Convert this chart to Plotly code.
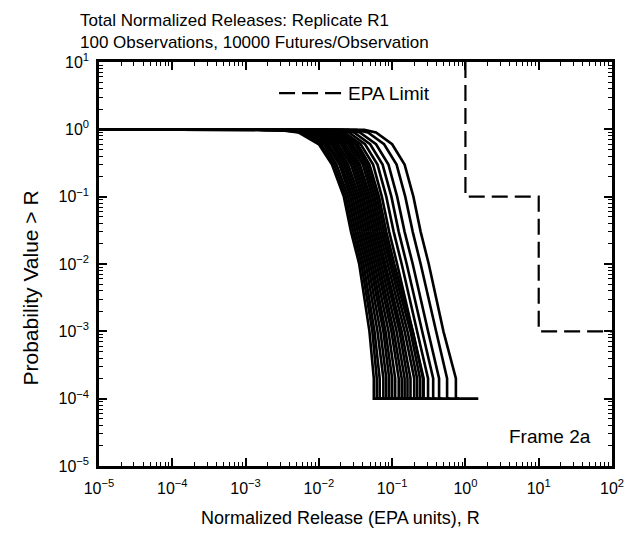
import plotly.graph_objects as go

# ---------------- data ----------------
# probability levels (P value > R) at which each curve's release R was read
prob_levels = [0.98, 0.9, 0.6, 0.3, 0.1, 0.03, 0.01, 0.001, 0.0002]
p_floor = 1e-4          # smallest probability (1 / 10000 futures)
r_start = 1e-5          # curves start at P = 1 at the left edge

# each row: R at the prob_levels above, then the largest R (end of the 1e-4 tail)
curves_band = [
    [0.00282, 0.00525, 0.0100, 0.0151, 0.0219, 0.0275, 0.0355, 0.0490, 0.0562, 1.5],
    [0.00309, 0.00575, 0.0107, 0.0162, 0.0234, 0.0295, 0.0380, 0.0537, 0.0617, 0.0692],
    [0.00339, 0.00617, 0.0117, 0.0174, 0.0251, 0.0316, 0.0407, 0.0575, 0.0676, 0.0759],
    [0.00380, 0.00676, 0.0126, 0.0191, 0.0269, 0.0339, 0.0437, 0.0631, 0.0759, 0.0851],
    [0.00417, 0.00741, 0.0135, 0.0204, 0.0288, 0.0363, 0.0468, 0.0692, 0.0832, 0.0933],
    [0.00457, 0.00794, 0.0148, 0.0219, 0.0309, 0.0389, 0.0501, 0.0759, 0.0912, 0.102],
    [0.00501, 0.00871, 0.0158, 0.0234, 0.0331, 0.0417, 0.0537, 0.0813, 0.100, 0.112],
    [0.00550, 0.00955, 0.0170, 0.0251, 0.0355, 0.0447, 0.0575, 0.0891, 0.110, 0.123],
    [0.00617, 0.0105, 0.0182, 0.0275, 0.0380, 0.0479, 0.0617, 0.0977, 0.123, 0.138],
    [0.00676, 0.0112, 0.0200, 0.0295, 0.0407, 0.0513, 0.0661, 0.105, 0.135, 0.151],
    [0.00741, 0.0123, 0.0214, 0.0316, 0.0437, 0.0550, 0.0708, 0.115, 0.148, 0.166],
    [0.00813, 0.0135, 0.0229, 0.0339, 0.0468, 0.0589, 0.0759, 0.126, 0.162, 0.182],
    [0.00891, 0.0145, 0.0251, 0.0363, 0.0501, 0.0631, 0.0813, 0.135, 0.178, 0.200],
    [0.0100, 0.0158, 0.0269, 0.0398, 0.0537, 0.0676, 0.0871, 0.148, 0.200, 0.224],
    [0.0110, 0.0174, 0.0288, 0.0427, 0.0575, 0.0724, 0.0933, 0.162, 0.219, 0.245],
    [0.0120, 0.0191, 0.0316, 0.0457, 0.0617, 0.0776, 0.100, 0.178, 0.240, 0.269],
    [0.0132, 0.0204, 0.0339, 0.0490, 0.0661, 0.0832, 0.107, 0.191, 0.263, 0.295],
]
curves_outer = [
    [0.0155, 0.0224, 0.0372, 0.0550, 0.0724, 0.0912, 0.117, 0.191, 0.269, 0.295],
    [0.0178, 0.0257, 0.0427, 0.0631, 0.0832, 0.105, 0.135, 0.219, 0.309, 0.339],
    [0.0209, 0.0302, 0.0501, 0.0741, 0.0977, 0.123, 0.158, 0.257, 0.363, 0.398],
    [0.0251, 0.0363, 0.0603, 0.0891, 0.117, 0.148, 0.191, 0.309, 0.437, 0.479],
    [0.0324, 0.0468, 0.0776, 0.115, 0.151, 0.191, 0.245, 0.398, 0.562, 0.617],
    [0.0417, 0.0603, 0.100, 0.148, 0.195, 0.245, 0.316, 0.501, 0.741, 0.813],
]

# EPA limit step line
epa_r = [1, 1, 10, 10, 100]
epa_p = [10, 0.1, 0.1, 0.001, 0.001]

x_tickvals = [1e-5, 1e-4, 1e-3, 1e-2, 1e-1, 1e0, 1e1, 1e2]
x_ticktext = ["10<sup>−5</sup>", "10<sup>−4</sup>", "10<sup>−3</sup>", "10<sup>−2</sup>",
              "10<sup>−1</sup>", "10<sup>0</sup>", "10<sup>1</sup>", "10<sup>2</sup>"]
y_tickvals = [1e-5, 1e-4, 1e-3, 1e-2, 1e-1, 1e0, 1e1]
y_ticktext = ["10<sup>−5</sup>", "10<sup>−4</sup>", "10<sup>−3</sup>", "10<sup>−2</sup>",
              "10<sup>−1</sup>", "10<sup>0</sup>", "10<sup>1</sup>"]

# ---------------- figure ----------------
FONT = "Liberation Sans, Arial, Helvetica, sans-serif"
fig = go.Figure()

for row in curves_band + curves_outer:
    vals = row[:len(prob_levels)]
    r_end = row[len(prob_levels)]
    xs = [r_start] + vals + [vals[-1], r_end]
    ys = [1.0] + prob_levels + [p_floor, p_floor]
    fig.add_trace(go.Scatter(x=xs, y=ys, mode="lines",
                             line=dict(color="black", width=2.6),
                             showlegend=False, hoverinfo="skip"))

fig.add_trace(go.Scatter(x=epa_r, y=epa_p, mode="lines", name="EPA Limit",
                         line=dict(color="black", width=2.2, dash="16px,7px"),
                         showlegend=False))

minor_vals = [m * 10.0 ** e for e in range(-5, 2) for m in range(2, 10)]

axis_common = dict(
    type="log", showgrid=False, zeroline=False,
    showline=True, linecolor="black", linewidth=2.5, mirror="ticks",
    ticks="inside", ticklen=8, tickwidth=1.5, tickcolor="black",
    tickfont=dict(family=FONT, size=16, color="black"),
)

fig.update_xaxes(
    **axis_common, range=[-5, 2], tickmode="array",
    tickvals=x_tickvals, ticktext=x_ticktext,
    minor=dict(tickmode="array", tickvals=minor_vals, ticks="inside",
               ticklen=4, tickwidth=1, tickcolor="black"),
    ticklabelstandoff=6,
)
fig.update_yaxes(
    **axis_common, range=[-5, 1], tickmode="array",
    tickvals=y_tickvals, ticktext=y_ticktext,
    minor=dict(tickmode="array", tickvals=minor_vals + [m * 10.0 for m in range(2, 10)],
               ticks="inside", ticklen=4, tickwidth=1, tickcolor="black"),
    ticklabelstandoff=4,
)

fig.update_layout(
    width=636, height=533,
    margin=dict(l=99, r=22, t=62, b=67),
    paper_bgcolor="white", plot_bgcolor="white",
    font=dict(family=FONT, color="black"),
    title=dict(text="Total Normalized Releases: Replicate R1<br>"
                    "100 Observations, 10000 Futures/Observation",
               x=80 / 636, xanchor="left", xref="container",
               y=0.951, yanchor="top",
               font=dict(family=FONT, size=17, color="black")),
    shapes=[dict(type="line", xref="paper", yref="paper",
                 x0=0.351, x1=0.474, y0=0.923, y1=0.923,
                 line=dict(color="black", width=2.2, dash="16px,7px"))],
    annotations=[
        dict(text="EPA Limit", xref="paper", yref="paper", x=0.481, y=0.923,
             xanchor="left", yanchor="middle", showarrow=False,
             font=dict(family=FONT, size=19, color="black")),
        dict(text="Frame 2a", xref="paper", yref="paper", x=0.963, y=0.074,
             xanchor="right", yanchor="middle", showarrow=False,
             font=dict(family=FONT, size=19, color="black")),
        dict(text="Normalized Release (EPA units), R", xref="paper", yref="paper",
             x=0.47, y=-0.128, xanchor="center", yanchor="middle", showarrow=False,
             font=dict(family=FONT, size=18, color="black")),
        dict(text="Probability Value > R", xref="paper", yref="paper",
             x=-0.134, y=0.44, xanchor="center", yanchor="middle", textangle=-90,
             showarrow=False, font=dict(family=FONT, size=21, color="black")),
    ],
)

fig.write_html("out.html")
